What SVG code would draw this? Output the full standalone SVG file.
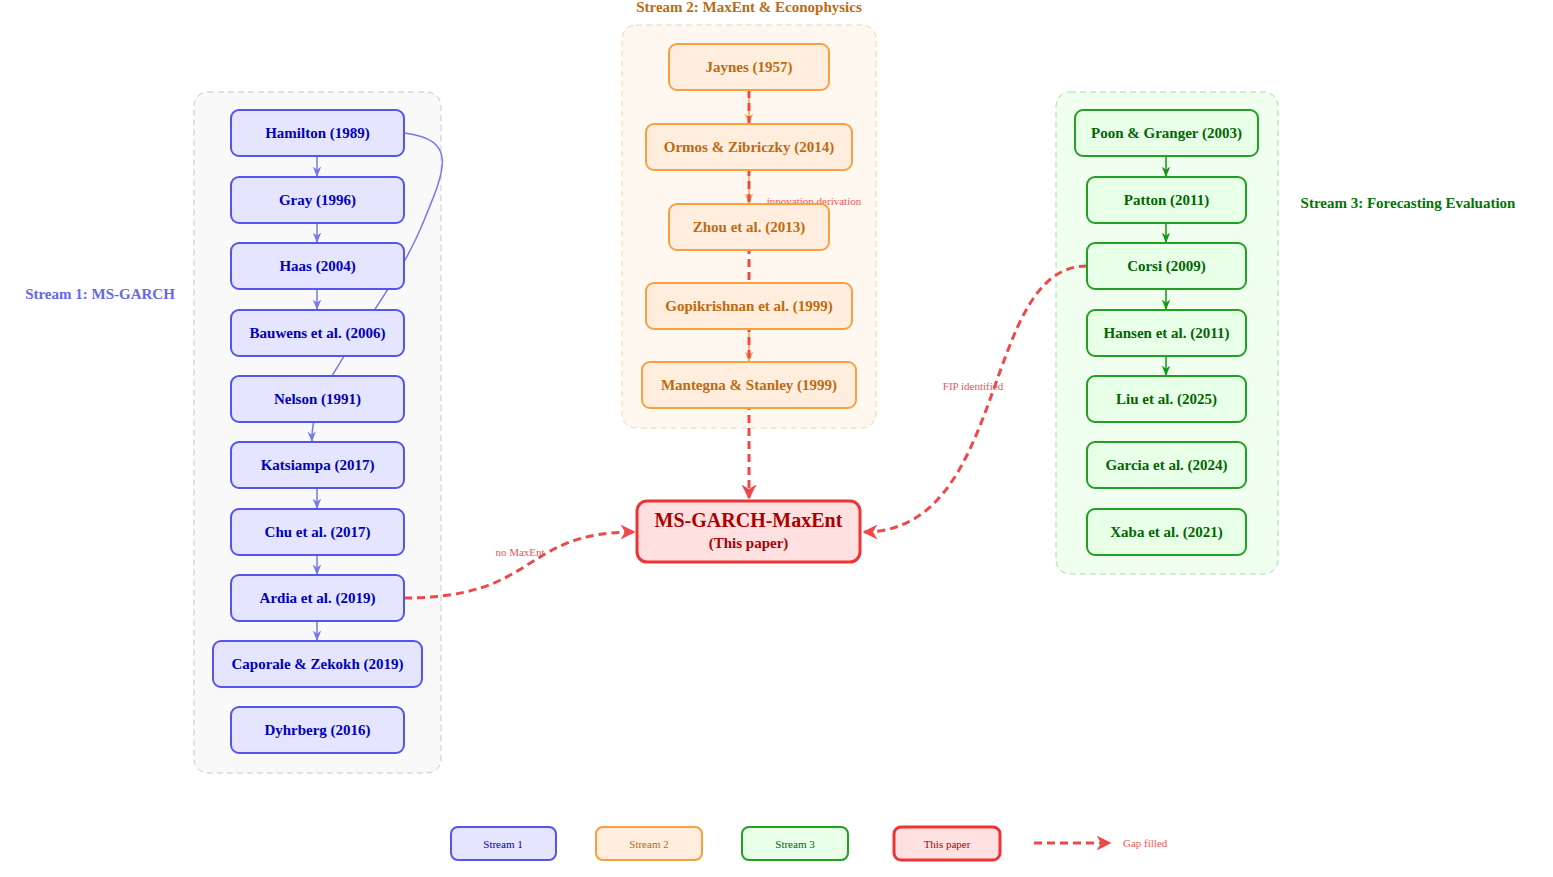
<svg xmlns="http://www.w3.org/2000/svg" width="1553" height="877" viewBox="0 0 1553 877">
<style>
text{font-family:"Liberation Serif","DejaVu Serif",serif;text-anchor:middle;dominant-baseline:central}
.n text{font-weight:bold;font-size:15px}
.b rect{fill:#e5e5ff;stroke:#5555ee;stroke-width:2}.b text{fill:#0000bb}
.o rect{fill:#ffeedd;stroke:#f8a040;stroke-width:2}.o text{fill:#c06a10}
.g rect{fill:#e8ffe8;stroke:#22a022;stroke-width:2}.g text{fill:#006600}
.r rect{fill:#ffe0e0;stroke:#ee3333;stroke-width:3}.r text{fill:#aa0000}
.grp{stroke-dasharray:6 4;stroke-width:1}
.lab{font-size:11px;fill:#ee5555}
.red{fill:none;stroke:#f04848;stroke-width:3;stroke-dasharray:8 5}
</style>
<defs>
<marker id="ab" viewBox="0 0 10 10" refX="9" refY="5" markerWidth="7" markerHeight="7" orient="auto"><path d="M0,1L10,5L0,9L3,5z" fill="#7777ee"/></marker>
<marker id="ao" viewBox="0 0 10 10" refX="9" refY="5" markerWidth="7" markerHeight="7" orient="auto"><path d="M0,1L10,5L0,9L3,5z" fill="#f8a040"/></marker>
<marker id="ag" viewBox="0 0 10 10" refX="9" refY="5" markerWidth="7" markerHeight="7" orient="auto"><path d="M0,1L10,5L0,9L3,5z" fill="#119911"/></marker>
<marker id="ar" viewBox="0 0 10 10" refX="9" refY="5" markerWidth="5" markerHeight="5" orient="auto"><path d="M0,0L10,5L0,10L3,5z" fill="#f04848"/></marker>
</defs>
<rect class="grp" x="194" y="92" width="247" height="681" rx="14" fill="#f9f9f9" stroke="#c8c8c8"/>
<rect class="grp" x="622" y="25" width="254" height="403" rx="14" fill="#fff8f0" stroke="#f8d0b0"/>
<rect class="grp" x="1056" y="92" width="222" height="482" rx="14" fill="#f0fff0" stroke="#a0e0a0"/>
<text x="100" y="294" style="font-weight:bold;font-size:15px;fill:#6666ee">Stream 1: MS-GARCH</text>
<text x="749" y="7" style="font-weight:bold;font-size:15px;fill:#c06a10">Stream 2: MaxEnt &amp; Econophysics</text>
<text x="1408" y="203" style="font-weight:bold;font-size:15px;fill:#007700">Stream 3: Forecasting Evaluation</text>
<g id="connectors">
<g stroke="#7777ee" stroke-width="1.5" fill="none" marker-end="url(#ab)">
<path d="M317,157V176"/><path d="M317,223V242"/><path d="M317,290V309"/>
<path d="M317,489V508"/><path d="M317,555V574"/><path d="M317,621V640"/>
<path d="M404,133C460,140 445,170 420,230C380,320 310,380 312,441"/>
</g>
<g stroke="#f8a040" stroke-width="1.5" fill="none" marker-end="url(#ao)">
<path d="M749,90V123"/><path d="M749,170V203"/><path d="M749,329V361"/>
</g>
<g stroke="#119911" stroke-width="1.5" fill="none" marker-end="url(#ag)">
<path d="M1166,156V176"/><path d="M1166,223V242"/><path d="M1166,289V309"/><path d="M1166,356V375"/>
</g>
<path class="red" d="M749,90V498" marker-end="url(#ar)"/>
<path class="red" d="M404,598C540,598 520,532 634,532" marker-end="url(#ar)"/>
<path class="red" d="M1087,266C980,266 1010,532 864,532" marker-end="url(#ar)"/>
<text class="lab" x="814" y="201">innovation derivation</text>
<text class="lab" x="520" y="552">no MaxEnt</text>
<text class="lab" x="973" y="386">FIP identified</text>
</g>
<g class="n b" id="hamilton"><rect x="231" y="110" width="173" height="46" rx="8"/><text x="317.5" y="133">Hamilton (1989)</text></g>
<g class="n b" id="gray"><rect x="231" y="177" width="173" height="46" rx="8"/><text x="317.5" y="200">Gray (1996)</text></g>
<g class="n b" id="haas"><rect x="231" y="243" width="173" height="46" rx="8"/><text x="317.5" y="266">Haas (2004)</text></g>
<g class="n b" id="bauwens"><rect x="231" y="310" width="173" height="46" rx="8"/><text x="317.5" y="333">Bauwens et al. (2006)</text></g>
<g class="n b" id="nelson"><rect x="231" y="376" width="173" height="46" rx="8"/><text x="317.5" y="399">Nelson (1991)</text></g>
<g class="n b" id="katsiampa"><rect x="231" y="442" width="173" height="46" rx="8"/><text x="317.5" y="465">Katsiampa (2017)</text></g>
<g class="n b" id="chu"><rect x="231" y="509" width="173" height="46" rx="8"/><text x="317.5" y="532">Chu et al. (2017)</text></g>
<g class="n b" id="ardia"><rect x="231" y="575" width="173" height="46" rx="8"/><text x="317.5" y="598">Ardia et al. (2019)</text></g>
<g class="n b" id="caporale"><rect x="213" y="641" width="209" height="46" rx="8"/><text x="317.5" y="664">Caporale &amp; Zekokh (2019)</text></g>
<g class="n b" id="dyhrberg"><rect x="231" y="707" width="173" height="46" rx="8"/><text x="317.5" y="730">Dyhrberg (2016)</text></g>
<g class="n o" id="jaynes"><rect x="669" y="44" width="160" height="46" rx="8"/><text x="749" y="67">Jaynes (1957)</text></g>
<g class="n o" id="ormos"><rect x="646" y="124" width="206" height="46" rx="8"/><text x="749" y="147">Ormos &amp; Zibriczky (2014)</text></g>
<g class="n o" id="zhou"><rect x="669" y="204" width="160" height="46" rx="8"/><text x="749" y="227">Zhou et al. (2013)</text></g>
<g class="n o" id="gopi"><rect x="646" y="283" width="206" height="46" rx="8"/><text x="749" y="306">Gopikrishnan et al. (1999)</text></g>
<g class="n o" id="mantegna"><rect x="642" y="362" width="214" height="46" rx="8"/><text x="749" y="385">Mantegna &amp; Stanley (1999)</text></g>
<g class="n g" id="poon"><rect x="1075" y="110" width="183" height="46" rx="8"/><text x="1166.5" y="133">Poon &amp; Granger (2003)</text></g>
<g class="n g" id="patton"><rect x="1087" y="177" width="159" height="46" rx="8"/><text x="1166.5" y="200">Patton (2011)</text></g>
<g class="n g" id="corsi"><rect x="1087" y="243" width="159" height="46" rx="8"/><text x="1166.5" y="266">Corsi (2009)</text></g>
<g class="n g" id="hansen"><rect x="1087" y="310" width="159" height="46" rx="8"/><text x="1166.5" y="333">Hansen et al. (2011)</text></g>
<g class="n g" id="liu"><rect x="1087" y="376" width="159" height="46" rx="8"/><text x="1166.5" y="399">Liu et al. (2025)</text></g>
<g class="n g" id="garcia"><rect x="1087" y="442" width="159" height="46" rx="8"/><text x="1166.5" y="465">Garcia et al. (2024)</text></g>
<g class="n g" id="xaba"><rect x="1087" y="509" width="159" height="46" rx="8"/><text x="1166.5" y="532">Xaba et al. (2021)</text></g>
<g class="n r" id="thispaper"><rect x="637" y="501" width="223" height="61" rx="10"/><text x="748.5" y="520" style="font-size:20px">MS-GARCH-MaxEnt</text><text x="748.5" y="543" style="font-size:15px">(This paper)</text></g>
<g id="legend">
<g class="b"><rect x="451" y="827" width="105" height="33" rx="7"/><text x="503" y="844" style="font-size:11px">Stream 1</text></g>
<g class="o"><rect x="596" y="827" width="106" height="33" rx="7"/><text x="649" y="844" style="font-size:11px">Stream 2</text></g>
<g class="g"><rect x="742" y="827" width="106" height="33" rx="7"/><text x="795" y="844" style="font-size:11px">Stream 3</text></g>
<g class="r"><rect x="894" y="827" width="106" height="33" rx="7"/><text x="947" y="844" style="font-size:11px">This paper</text></g>
<path class="red" d="M1034,843H1110" marker-end="url(#ar)"/>
<text x="1123" y="843" style="font-size:11px;fill:#ee5555;text-anchor:start">Gap filled</text>
</g>
</svg>
